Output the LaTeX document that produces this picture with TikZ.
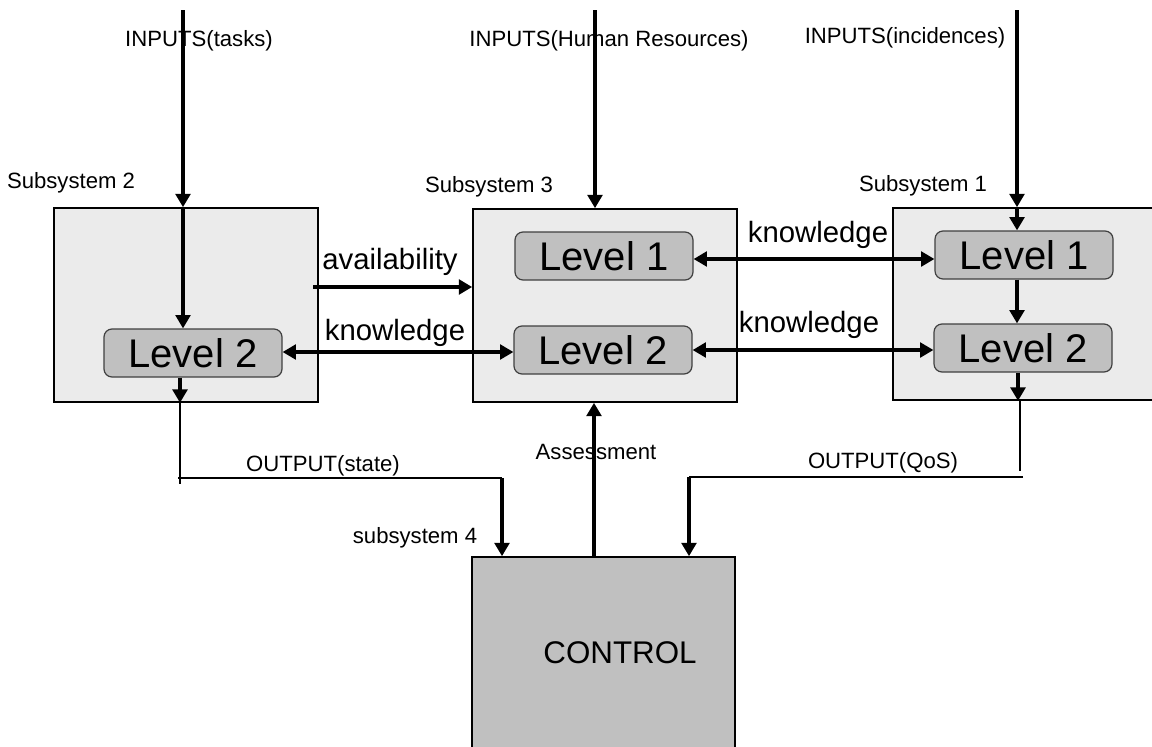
\documentclass[tikz,border=0pt]{standalone}
\usepackage{fontspec}
\setmainfont{Liberation Sans}
\usetikzlibrary{arrows.meta}
\begin{document}
\begin{tikzpicture}[x=0.75pt,y=-0.75pt,
  subsys/.style={draw=black,line width=1.2pt,fill=boxgray,inner sep=0pt},
  levelbox/.style={draw=black!75,line width=0.9pt,fill=levelgray,rounded corners=6pt,
    inner sep=0pt,minimum width=133.5pt,minimum height=36pt,font=\fontsize{30}{30}\selectfont},
  small/.style={inner sep=0pt,font=\fontsize{16.6}{17}\selectfont},
  big/.style={inner sep=0pt,font=\fontsize{22}{22}\selectfont},
  tip/.tip={Triangle[length=10pt,width=11pt]},
  arr/.style={line width=2.5pt,-tip},
  dbl/.style={line width=2.4pt,tip-tip},
  dblthick/.style={line width=3.2pt,tip-tip},
  thin/.style={line width=1.2pt}]
\definecolor{boxgray}{HTML}{EBEBEB}
\definecolor{levelgray}{HTML}{C0C0C0}
\useasboundingbox (0,0) rectangle (1152,746);

% subsystem boxes (the right one and the control box run past the page edge)
\node[subsys,minimum width=198pt,minimum height=145.5pt] (s2) at (186,305) {};
\node[subsys,minimum width=198pt,minimum height=144.75pt] (s3) at (605,305.5) {};
\node[subsys,minimum width=240pt,minimum height=144pt] (s1) at (1053,304) {};
\node[subsys,fill=levelgray,minimum width=197.25pt,minimum height=167.25pt] (ctrl) at (603.5,668.5) {};

% levels
\node[levelbox] (s2l2) at (193,353) {Level 2};
\node[levelbox] (s3l1) at (604,256) {Level 1};
\node[levelbox] (s3l2) at (603,350) {Level 2};
\node[levelbox] (s1l1) at (1024,255) {Level 1};
\node[levelbox] (s1l2) at (1023,348) {Level 2};

% labels
\node[small] (t2) at (71,183) {Subsystem 2};
\node[small] (t3) at (489,187) {Subsystem 3};
\node[small] (t1) at (923,186) {Subsystem 1};
\node[small] (t4) at (415,538) {subsystem 4};
\node[small] (intask) at (199,41) {INPUTS(tasks)};
\node[small] (inhr) at (609,41) {INPUTS(Human Resources)};
\node[small] (ininc) at (905,38) {INPUTS(incidences)};
\node[small] (assess) at (596,452) {Assessment};
\node[small] (outst) at (323,466) {OUTPUT(state)};
\node[small] (outqos) at (883,463) {OUTPUT(QoS)};
\node[big] (avail) at (390,262) {availability};
\node[big] (kn23) at (395,333) {knowledge};
\node[big] (kn31a) at (818,235) {knowledge};
\node[big] (kn31b) at (809,325) {knowledge};
\node[inner sep=0pt,font=\fontsize{23.5}{24}\selectfont] (ctrltext) at (620,653) {CONTROL};

% input arrows
\coordinate (i2) at (183,10);
\coordinate (i3) at (595,10);
\coordinate (i1) at (1017,10);
\draw[arr] (i2) -- (i2 |- s2.north);
\draw[arr] (i2 |- s2.north) -- (i2 |- s2l2.north);
\draw[arr] (i3) -- (i3 |- s3.north);
\draw[arr] (i1) -- (i1 |- s1.north);
\draw[arr] (i1 |- s1.north) -- (i1 |- s1l1.north);
\draw[arr] (s1l1.south -| i1) -- (s1l2.north -| i1);

% links between subsystems
\coordinate (av) at (313,287);
\draw[arr] (av) -- (av -| s3.west);
\draw[dbl] (s2l2.east |- 0,352) -- (s3l2.west |- 0,352);
\draw[dblthick] (s3l1.east |- 0,259) -- (s1l1.west |- 0,259);
\draw[dblthick] (s3l2.east |- 0,350) -- (s1l2.west |- 0,350);

% outputs towards control
\coordinate (o2) at (180,484);
\coordinate (o2a) at (178,478);
\coordinate (o2b) at (502,478);
\draw[arr] (o2 |- s2l2.south) -- (o2 |- s2.south);
\draw[thin] (o2 |- s2.south) -- (o2);
\draw[thin] (o2a) -- (o2b);
\draw[arr] (o2b) -- (o2b |- ctrl.north);

\coordinate (o1) at (1020,471);
\coordinate (o1a) at (1023,477);
\coordinate (o1b) at (689,477);
\draw[arr] (s1l2.south -| 1018,0) -- (s1.south -| 1018,0);
\draw[thin] (o1 |- s1.south) -- (o1);
\draw[thin] (o1a) -- (o1b);
\draw[arr] (o1b) -- (o1b |- ctrl.north);

% assessment
\coordinate (as) at (594,557);
\draw[arr] (as |- ctrl.north) -- (as |- s3.south);
\end{tikzpicture}
\end{document}
